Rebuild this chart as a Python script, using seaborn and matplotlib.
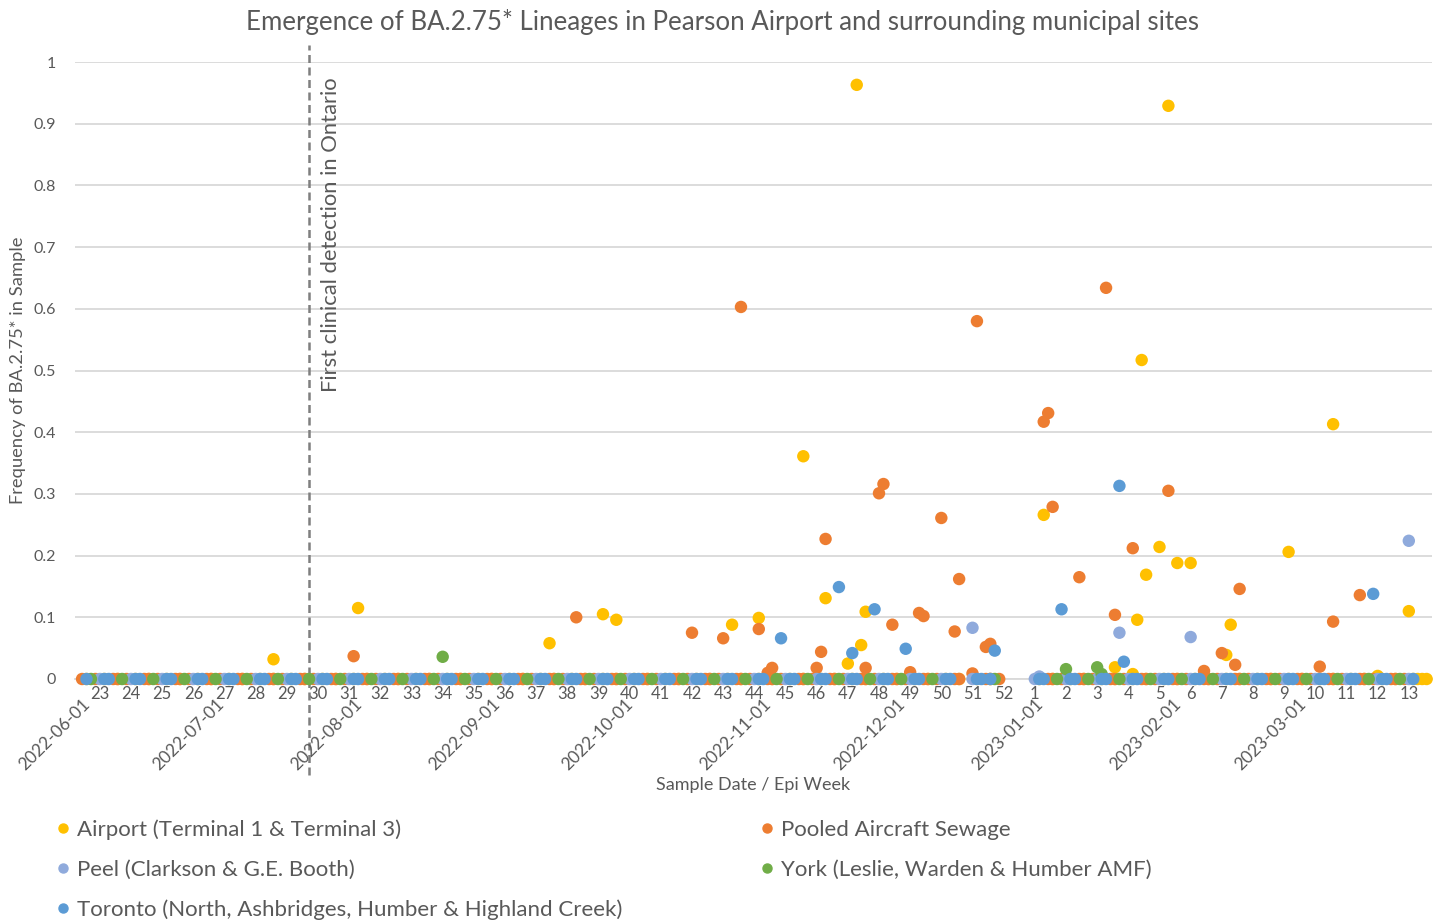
import matplotlib
matplotlib.use("Agg")
import matplotlib.pyplot as plt
import matplotlib.dates as mdates
import matplotlib.transforms as mtransforms
from matplotlib.lines import Line2D
import numpy as np
import pandas as pd
import seaborn as sns

# ---------------- data ----------------
SERIES = ["Airport (Terminal 1 & Terminal 3)",
          "Pooled Aircraft Sewage",
          "Peel (Clarkson & G.E. Booth)",
          "York (Leslie, Warden & Humber AMF)",
          "Toronto (North, Ashbridges, Humber & Highland Creek)"]
COLORS = ["#FFC000", "#ED7D31", "#8FAADC", "#70AD47", "#5B9BD5"]

# samples with BA.2.75* detected
airport_dates = ["2022-07-14", "2022-08-02", "2022-09-14", "2022-09-26", "2022-09-29",
                 "2022-10-25", "2022-10-31", "2022-11-10", "2022-11-15", "2022-11-20",
                 "2022-11-22", "2022-11-23", "2022-11-24", "2023-01-03", "2023-01-19",
                 "2023-01-23", "2023-01-24", "2023-01-25", "2023-01-26", "2023-01-29",
                 "2023-01-31", "2023-02-02", "2023-02-05", "2023-02-13", "2023-02-14",
                 "2023-02-27", "2023-03-09", "2023-03-19", "2023-03-26"]
airport_vals = [0.032, 0.115, 0.058, 0.105, 0.096, 0.088, 0.099, 0.361, 0.131, 0.025,
                0.963, 0.055, 0.109, 0.266, 0.019, 0.008, 0.096, 0.517, 0.169, 0.214,
                0.929, 0.188, 0.188, 0.039, 0.088, 0.206, 0.413, 0.005, 0.110]

pooled_dates = ["2022-08-01", "2022-09-20", "2022-10-16", "2022-10-23", "2022-10-27",
                "2022-10-31", "2022-11-02", "2022-11-03", "2022-11-13", "2022-11-14",
                "2022-11-15", "2022-11-24", "2022-11-27", "2022-11-28", "2022-11-30",
                "2022-12-04", "2022-12-06", "2022-12-07", "2022-12-11", "2022-12-14",
                "2022-12-15", "2022-12-18", "2022-12-19", "2022-12-21", "2022-12-22",
                "2023-01-03", "2023-01-04", "2023-01-05", "2023-01-11", "2023-01-17",
                "2023-01-19", "2023-01-23", "2023-01-31", "2023-02-08", "2023-02-12",
                "2023-02-15", "2023-02-16", "2023-03-06", "2023-03-09", "2023-03-15"]
pooled_vals = [0.037, 0.100, 0.075, 0.066, 0.603, 0.081, 0.010, 0.018, 0.018, 0.044,
               0.227, 0.018, 0.301, 0.316, 0.088, 0.011, 0.107, 0.102, 0.261, 0.077,
               0.162, 0.009, 0.580, 0.052, 0.057, 0.417, 0.431, 0.279, 0.165, 0.634,
               0.104, 0.212, 0.305, 0.013, 0.042, 0.023, 0.146, 0.020, 0.093, 0.136]

peel_dates = ["2022-12-18", "2023-01-02", "2023-01-20", "2023-02-05", "2023-03-26"]
peel_vals = [0.083, 0.004, 0.075, 0.068, 0.224]

york_dates = ["2022-08-21", "2023-01-08", "2023-01-15", "2023-01-16"]
york_vals = [0.036, 0.016, 0.019, 0.008]

toronto_dates = ["2022-11-05", "2022-11-18", "2022-11-21", "2022-11-26", "2022-12-03",
                 "2022-12-23", "2023-01-07", "2023-01-20", "2023-01-21", "2023-03-18"]
toronto_vals = [0.066, 0.149, 0.042, 0.113, 0.049, 0.046, 0.113, 0.313, 0.028, 0.138]

# samples with no BA.2.75* detected (value 0), by month: days of month
airport_zero_days = {
    "2022-06": [2, 6, 9, 13, 16, 20, 23, 27, 30],
    "2022-07": [4, 7, 11, 14, 18, 21, 25, 28],
    "2022-08": [1, 4, 8, 11, 15, 18, 22, 25, 29],
    "2022-09": [1, 5, 8, 12, 15, 19, 22, 26, 29],
    "2022-10": [3, 6, 10, 13, 17, 20, 24, 27, 31],
    "2022-11": [3, 7, 10, 14, 17, 21, 24, 28],
    "2022-12": [1, 5, 8, 12, 15, 19, 22],
    "2023-01": [2, 5, 9, 12, 16, 19, 23, 26, 30],
    "2023-02": [2, 6, 9, 13, 16, 20, 23, 27],
    "2023-03": [2, 6, 9, 13, 16, 20, 23, 27, 28, 29, 30],
}
pooled_zero_days = {
    "2022-06": [1, 4, 8, 9, 11, 15, 16, 18, 22, 23, 25, 29, 30],
    "2022-07": [2, 6, 7, 9, 13, 14, 16, 20, 21, 23, 27, 28, 30],
    "2022-08": [3, 4, 6, 10, 11, 13, 17, 18, 20, 24, 25, 27, 31],
    "2022-09": [1, 3, 7, 8, 10, 14, 15, 17, 21, 22, 24, 28, 29],
    "2022-10": [1, 5, 6, 8, 12, 13, 15, 19, 20, 22, 26, 27, 29],
    "2022-11": [2, 3, 5, 9, 10, 12, 16, 17, 19, 23, 24, 26, 30],
    "2022-12": [1, 3, 7, 8, 10, 14, 15, 21, 22, 24],
    "2023-01": [4, 5, 7, 11, 12, 14, 18, 19, 21, 25, 26, 28],
    "2023-02": [1, 2, 4, 8, 9, 11, 15, 16, 18, 22, 23, 25],
    "2023-03": [1, 2, 4, 8, 9, 11, 15, 16, 18, 22, 23, 25],
}
peel_zero_days = {
    "2022-06": [5, 12, 19, 26],
    "2022-07": [3, 10, 17, 24, 31],
    "2022-08": [7, 14, 21, 28],
    "2022-09": [4, 11, 18, 25],
    "2022-10": [2, 9, 16, 23, 30],
    "2022-11": [6, 13, 20, 27],
    "2022-12": [4, 11, 18],
    "2023-01": [1, 8, 15, 22, 29],
    "2023-02": [5, 12, 19, 26],
    "2023-03": [5, 12, 19, 26],
}
york_zero_days = {
    "2022-06": [3, 10, 17, 24],
    "2022-07": [1, 8, 15, 22, 29],
    "2022-08": [5, 12, 19, 26],
    "2022-09": [2, 9, 16, 23, 30],
    "2022-10": [7, 14, 21, 28],
    "2022-11": [4, 11, 18, 25],
    "2022-12": [2, 9, 23],
    "2023-01": [6, 13, 20, 27],
    "2023-02": [3, 10, 17, 24],
    "2023-03": [3, 10, 17, 24],
}
toronto_zero_days = {
    "2022-06": [2, 6, 7, 13, 14, 20, 21, 27, 28],
    "2022-07": [4, 5, 11, 12, 18, 19, 25, 26],
    "2022-08": [1, 2, 8, 9, 15, 16, 22, 23, 29, 30],
    "2022-09": [5, 6, 12, 13, 19, 20, 26, 27],
    "2022-10": [3, 4, 10, 11, 17, 18, 24, 25, 31],
    "2022-11": [1, 7, 8, 14, 15, 21, 22, 28, 29],
    "2022-12": [5, 6, 12, 13, 19, 20, 22],
    "2023-01": [2, 3, 9, 10, 16, 17, 23, 24, 30, 31],
    "2023-02": [6, 7, 13, 14, 20, 21, 27, 28],
    "2023-03": [6, 7, 13, 14, 20, 21, 27],
}

# axis labels
week_labels = [str(w) for w in list(range(23, 53)) + list(range(1, 14))]
week_first_start = "2022-06-05"
date_labels = ["2022-06-01", "2022-07-01", "2022-08-01", "2022-09-01", "2022-10-01",
               "2022-11-01", "2022-12-01", "2023-01-01", "2023-02-01", "2023-03-01"]
ytick_labels = ["0", "0.1", "0.2", "0.3", "0.4", "0.5", "0.6", "0.7", "0.8", "0.9", "1"]
first_detection = "2022-07-22"

# ---------------- build table ----------------
def zero_dates(month_days):
    out = []
    for ym, days in month_days.items():
        out += [f"{ym}-{d:02d}" for d in days]
    return out

frames = []
for name, zd, dd, vv in [
    (SERIES[0], airport_zero_days, airport_dates, airport_vals),
    (SERIES[1], pooled_zero_days, pooled_dates, pooled_vals),
    (SERIES[2], peel_zero_days, peel_dates, peel_vals),
    (SERIES[3], york_zero_days, york_dates, york_vals),
    (SERIES[4], toronto_zero_days, toronto_dates, toronto_vals),
]:
    z = zero_dates(zd)
    frames.append(pd.DataFrame({"date": pd.to_datetime(z + dd),
                                "value": [0.0] * len(z) + list(vv),
                                "series": name}))
df = pd.concat(frames, ignore_index=True)

# ---------------- plot ----------------
sns.set_style("white")
plt.rcParams["font.family"] = ["Lato", "DejaVu Sans"]
GREY = "#595959"

W, H = 1445, 923
fig = plt.figure(figsize=(W / 100, H / 100), dpi=100)
L, R, T, B = 75, 1432, 62, 679
ax = fig.add_axes([L / W, (H - B) / H, (R - L) / W, (B - T) / H])

sns.scatterplot(data=df, x="date", y="value", hue="series", hue_order=SERIES,
                palette=dict(zip(SERIES, COLORS)), s=80, linewidth=0,
                edgecolor="none", legend=False, ax=ax, clip_on=False, zorder=3)

ax.set_xlim(pd.Timestamp("2022-05-30 10:00"), pd.Timestamp("2023-03-31 05:00"))
ax.set_ylim(0, 1)
ax.set_yticks(np.linspace(0, 1, 11))
ax.set_yticklabels(ytick_labels)
ax.yaxis.grid(True, color="#D9D9D9", lw=1.3)
ax.set_axisbelow(True)
for s in ["left", "right", "top"]:
    ax.spines[s].set_visible(False)
ax.spines["bottom"].set_color("#D9D9D9")
ax.spines["bottom"].set_linewidth(1.3)
ax.spines["bottom"].set_zorder(0.5)

week_pos = pd.date_range(week_first_start, periods=len(week_labels), freq="7D")
ax.set_xticks(week_pos)
ax.set_xticklabels(week_labels)
ax.tick_params(axis="x", length=0, pad=5, labelsize=12, labelcolor=GREY)
ax.tick_params(axis="y", length=0, pad=14, labelsize=11.5, labelcolor=GREY)
ax.set_xlabel("")
ax.set_ylabel("")

blend = mtransforms.blended_transform_factory(ax.transData, ax.transAxes)
for d in date_labels:
    ax.text(mdates.date2num(pd.Timestamp(d)), -0.028, d, transform=blend,
            rotation=45, ha="right", va="top", rotation_mode="anchor",
            fontsize=12.5, color=GREY)

xl = mdates.date2num(pd.Timestamp(first_detection))
ax.plot([xl, xl], [-0.156, 1.028], transform=blend, color="#7F7F7F", lw=1.8,
        dashes=(3.2, 1.8), clip_on=False, zorder=2)
ax.text(mdates.date2num(pd.Timestamp("2022-07-27")), 0.465,
        "First clinical detection in Ontario", transform=blend, rotation=90,
        ha="center", va="bottom", fontsize=15.8, color=GREY)

fig.text(723 / W, 1 - 22 / H,
         "Emergence of BA.2.75* Lineages in Pearson Airport and surrounding municipal sites",
         ha="center", va="center", fontsize=18.6, color=GREY)
fig.text(18 / W, 1 - 370 / H, "Frequency of BA.2.75* in Sample", rotation=90,
         ha="center", va="center", fontsize=13.2, color=GREY)
fig.text(753 / W, 1 - 785 / H, "Sample Date / Epi Week", ha="center", va="center",
         fontsize=13, color=GREY)

order = [0, 2, 4, 1, 3]
handles = [Line2D([], [], marker="o", ls="", ms=6.5, mfc=COLORS[i], mec=COLORS[i])
           for i in order]
fig.legend(handles, [SERIES[i] for i in order], ncol=2, loc="upper left",
           bbox_to_anchor=(57 / W, 1 - 819 / H), frameon=False, fontsize=16,
           labelcolor=GREY, handlelength=0.5, handletextpad=0.4,
           labelspacing=0.89, columnspacing=6.25, borderpad=0, borderaxespad=0)

fig.savefig("out.png", dpi=100)
